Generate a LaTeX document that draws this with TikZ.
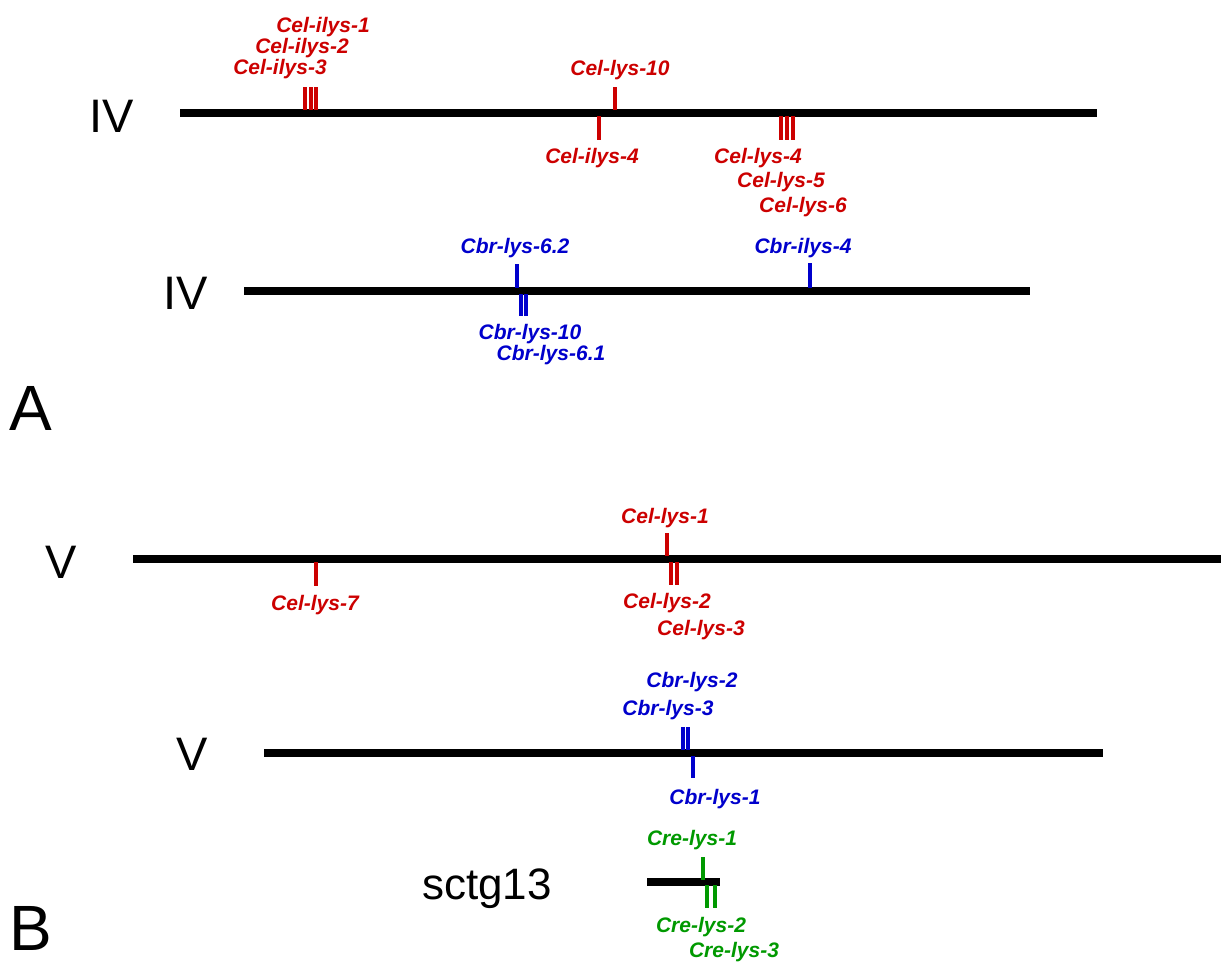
\documentclass[tikz,border=0pt]{standalone}
\usepackage{fontspec}
\setmainfont{Liberation Sans}
\definecolor{gred}{RGB}{204,0,0}
\definecolor{gblue}{RGB}{0,0,204}
\definecolor{ggreen}{RGB}{0,153,0}
\begin{document}
\begin{tikzpicture}[x=1pt,y=-1pt,
  chrom/.style={line width=8pt},
  tick/.style={line width=3.5pt},
  gene/.style={inner sep=0pt,anchor=base,font=\fontsize{21}{24}\selectfont\bfseries\itshape},
  chrlab/.style={inner sep=0pt,anchor=base west,font=\fontsize{47}{50}\selectfont},
  panel/.style={inner sep=0pt,anchor=base west,font=\fontsize{64}{70}\selectfont}]
\useasboundingbox (0,0) rectangle (1221,962);
% Panel A, C. elegans IV
\node[chrlab] (iv1) at (89,132) {IV};
\draw[chrom] (180,113) coordinate (c1a) -- (1097,113) coordinate (c1b);
\begin{scope}[gred]
\draw[tick] (305,87) -- (305,110);
\draw[tick] (311,87) -- (311,110);
\draw[tick] (316,87) -- (316,110);
\draw[tick] (615,87) -- (615,110);
\draw[tick] (599,116) -- (599,140);
\draw[tick] (781,116) -- (781,140);
\draw[tick] (787,116) -- (787,140);
\draw[tick] (793,116) -- (793,140);
\node[gene,gred] (i1) at (323,32) {Cel-ilys-1};
\node[gene,gred] (i2) at (302,53) {Cel-ilys-2};
\node[gene,gred] (i3) at (280,74) {Cel-ilys-3};
\node[gene,gred] (l10) at (620,75) {Cel-lys-10};
\node[gene,gred] (i4) at (592,163) {Cel-ilys-4};
\node[gene,gred] (l4) at (758,163) {Cel-lys-4};
\node[gene,gred] (l5) at (781,187) {Cel-lys-5};
\node[gene,gred] (l6) at (803,212) {Cel-lys-6};
\end{scope}
% C. briggsae IV
\node[chrlab] (iv2) at (163,309) {IV};
\draw[chrom] (244,291) coordinate (c2a) -- (1030,291) coordinate (c2b);
\draw[tick,gblue] (517,264) -- (517,288);
\draw[tick,gblue] (521,294) -- (521,316);
\draw[tick,gblue] (526,294) -- (526,316);
\draw[tick,gblue] (810,263) -- (810,288);
\node[gene,gblue] (b62) at (515,253) {Cbr-lys-6.2};
\node[gene,gblue] (b10) at (530,339) {Cbr-lys-10};
\node[gene,gblue] (b61) at (551,360) {Cbr-lys-6.1};
\node[gene,gblue] (bi4) at (803,253) {Cbr-ilys-4};
\node[panel] (pA) at (9,430) {A};
% Panel B, C. elegans V
\node[chrlab] (v1) at (45,578) {V};
\draw[chrom] (133,559) coordinate (c3a) -- (1221,559) coordinate (c3b);
\draw[tick,gred] (667,533) -- (667,556);
\draw[tick,gred] (671,562) -- (671,585);
\draw[tick,gred] (677,562) -- (677,585);
\draw[tick,gred] (316,562) -- (316,586);
\node[gene,gred] (e1) at (665,523) {Cel-lys-1};
\node[gene,gred] (e2) at (667,608) {Cel-lys-2};
\node[gene,gred] (e3) at (701,635) {Cel-lys-3};
\node[gene,gred] (e7) at (315,610) {Cel-lys-7};
% C. briggsae V
\node[chrlab] (v2) at (176,770) {V};
\draw[chrom] (264,753) coordinate (c4a) -- (1103,753) coordinate (c4b);
\draw[tick,gblue] (683,727) -- (683,750);
\draw[tick,gblue] (688,727) -- (688,750);
\draw[tick,gblue] (693,756) -- (693,778);
\node[gene,gblue] (r2) at (692,687) {Cbr-lys-2};
\node[gene,gblue] (r3) at (668,715) {Cbr-lys-3};
\node[gene,gblue] (r1) at (715,804) {Cbr-lys-1};
% C. remanei sctg13
\node[chrlab,font=\fontsize{44}{48}\selectfont] (sc) at (422,899) {sctg13};
\draw[chrom] (647,882) coordinate (c5a) -- (720,882) coordinate (c5b);
\draw[tick,ggreen] (703,857) -- (703,880);
\draw[tick,ggreen] (707,885) -- (707,908);
\draw[tick,ggreen] (715,885) -- (715,908);
\node[gene,ggreen] (g1) at (692,845) {Cre-lys-1};
\node[gene,ggreen] (g2) at (701,932) {Cre-lys-2};
\node[gene,ggreen] (g3) at (734,957) {Cre-lys-3};
\node[panel] (pB) at (9,950) {B};
\end{tikzpicture}
\end{document}
